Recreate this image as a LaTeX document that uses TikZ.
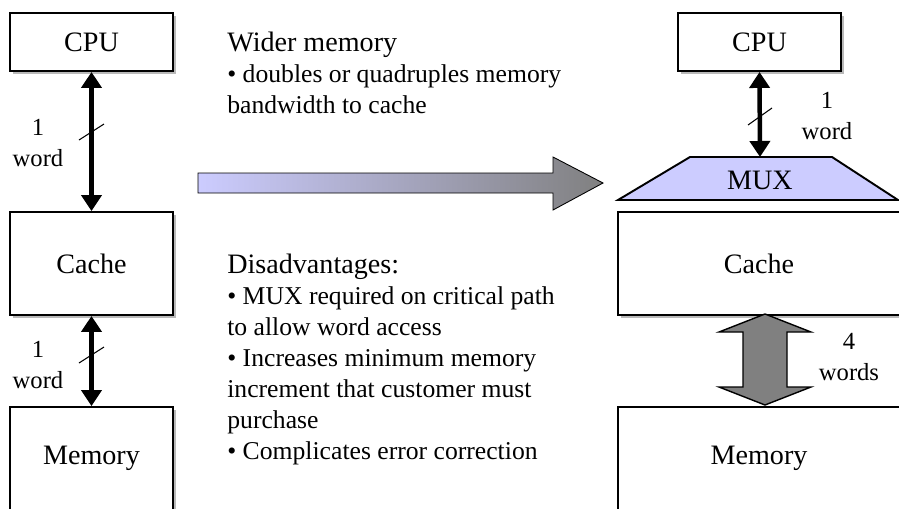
\documentclass[tikz,border=0pt]{standalone}
\usepackage{fontspec}
\setmainfont{Liberation Serif}
\usetikzlibrary{arrows.meta,shadows}
\definecolor{Lavender}{HTML}{CCCCFF}
\definecolor{BusGray}{HTML}{808080}
\tikzset{
  unit/.style={draw=black,line width=1.1pt,fill=white,minimum width=3.26cm,
    drop shadow={shadow xshift=.06cm,shadow yshift=-.06cm,opacity=.55},
    font=\fontsize{16}{19}\selectfont},
  wordbus/.style={line width=.09cm,{Triangle[length=.32cm,width=.4cm]}-{Triangle[length=.32cm,width=.4cm]}},
  tick/.style={line width=.6pt},
  buslabel/.style={align=center,inner sep=0pt,anchor=base,font=\fontsize{14}{17.6}\selectfont},
  notes/.style={align=left,inner sep=0pt,anchor=base west,font=\fontsize{14.6}{17.6}\selectfont}
}

\begin{document}
\begin{tikzpicture}[x=0.02cm,y=-0.02cm]
    \clip (0,0) rectangle (899,508);

    % one word wide path
    \node[unit,minimum height=1.16cm] (cpu) at (91.5,42) {CPU};
    \node[unit,minimum height=2.06cm] (cache) at (91.5,263.5) {Cache};
    \node[unit,minimum height=2.06cm] (mem) at (91.5,458.5) {Memory};

    \draw[wordbus] (cpu.south) -- (cache.north);
    \draw[tick] (79,140) -- (104,124);
    \node[buslabel] (w1) at (38,166) {1\\word};

    \draw[wordbus] (cache.south) -- (mem.north);
    \draw[tick] (79,363) -- (104,347);
    \node[buslabel] (w2) at (38,388) {1\\word};

    % shaded arrow in the middle
    \draw[line width=.5pt,left color=Lavender,right color=BusGray]
      (198,173) -- (553,173) -- (553,157) -- (603,183) -- (553,210) -- (553,193) -- (198,193) -- cycle;

    % base of these nodes is the last line
    \node[notes] (wider) at (227,113)
      {{\fontsize{16}{17.6}\selectfont Wider memory}\\
       • doubles or quadruples memory\\
       bandwidth to cache};
    \node[notes] (cons) at (227,459)
      {{\fontsize{16}{17.6}\selectfont Disadvantages:}\\
       • MUX required on critical path\\
       to allow word access\\
       • Increases minimum memory\\
       increment that customer must\\
       purchase\\
       • Complicates error correction};

    % wide memory with mux
    \node[unit,minimum height=1.16cm] (cpu2) at (759.5,42) {CPU};
    \coordinate (muxtl) at (690,157);
    \coordinate (muxtr) at (832,157);
    \coordinate (muxbr) at (898,200);
    \coordinate (muxbl) at (618,200);
    \draw[line width=1.1pt,fill=Lavender] (muxtl) -- (muxtr) -- (muxbr) -- (muxbl) -- cycle;
    \node[font=\fontsize{16}{19}\selectfont] (mux) at (760,180) {MUX};
    \coordinate (muxin) at (760,157);

    \node[unit,minimum width=5.64cm,minimum height=2.06cm] (cache2) at (759,263.5) {Cache};
    \node[unit,minimum width=5.64cm,minimum height=2.06cm] (mem2) at (759,458.5) {Memory};

    \draw[wordbus] (cpu2.south) -- (muxin);
    \draw[tick] (748,125) -- (772,108);
    \node[buslabel] (w3) at (827,139) {1\\word};

    % four words wide bus
    \coordinate (bustop) at (765,314);
    \coordinate (busbot) at (765,405);
    \draw[line width=.8pt,fill=BusGray] (bustop) -- ++(46,18) -- ++(-24,0) -- ++(0,55) -- ++(24,0)
      -- (busbot) -- ++(-46,-18) -- ++(24,0) -- ++(0,-55) -- ++(-24,0) -- cycle;
    \node[buslabel] (w4) at (849,380) {4\\words};
\end{tikzpicture}
\end{document}
